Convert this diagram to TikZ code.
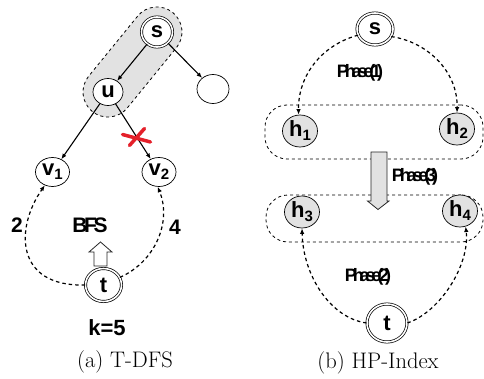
\documentclass[tikz,border=0pt]{standalone}
\usepackage{fontspec}
\newfontfamily\hv{Liberation Sans}
\newfontfamily\hvtight{Liberation Sans}[LetterSpace=-23]
\newfontfamily\hvbfs{Liberation Sans}[LetterSpace=-16]
\usetikzlibrary{shapes.geometric,arrows.meta}
\newcommand\subn[1]{{\fontsize{15}{15}\selectfont\raisebox{-4pt}{#1}}}
\definecolor{xred}{RGB}{228,32,42}
\definecolor{lgray}{RGB}{226,226,226}
\begin{document}
\begin{tikzpicture}[x=1pt,y=-1pt,
  nd/.style={ellipse,draw,line width=0.7pt,inner sep=0pt,fill=white,
    font=\hv\bfseries\fontsize{22}{24}\selectfont},
  dbl/.style={nd,double,double distance=1.6pt},
  gnd/.style={nd,fill=lgray},
  edge/.style={-{Latex[length=5.5pt,width=4.5pt]},line width=1.1pt},
  dsh/.style={edge,dash pattern=on 3.5pt off 3pt,line width=1.2pt},
  region/.style={draw,dashed,line width=0.8pt,rounded corners=22pt,rectangle,inner sep=0pt},
  capsule/.style={draw,dashed,line width=0.8pt,fill=lgray,rectangle,rounded corners=25pt,inner sep=0pt},
  lbl/.style={font=\hv\bfseries\fontsize{21}{23}\selectfont,inner sep=0pt},
  phase/.style={font=\hvtight\bfseries\fontsize{18}{20}\selectfont,inner sep=0pt},
  captxt/.style={font=\fontsize{22.5}{25}\selectfont,inner sep=0pt},
  blk/.style={draw=black!85,line width=0.8pt,line join=miter},
  xmark/.style={draw=xred,line width=3.5pt,line cap=round}]
\useasboundingbox (0,0) rectangle (484,379);

% ---------- (a) T-DFS ----------
\node[capsule,rotate=50.8,minimum width=127.5,minimum height=50] (capL) at (132.5,62) {};
\node[dbl,minimum width=31,minimum height=30] (sL) at (157,32) {s};
\node[nd,minimum width=30,minimum height=27] (u) at (108,92) {u};
\node[nd,minimum width=32,minimum height=29] (e) at (213,89) {};
\node[nd,minimum width=34,minimum height=29] (v1) at (52.5,172) {v\subn{1}};
\node[nd,minimum width=34,minimum height=29] (v2) at (159,172) {v\subn{2}};
\node[dbl,minimum width=36,minimum height=33] (tL) at (103.5,285) {t};

\draw[edge] (sL) -- (u);
\draw[edge] (sL) -- (e);
\draw[edge] (u) -- (v1);
\draw[edge] (u) -- (v2);
\draw[xmark] (122.5,134.5) -- (150.5,142);
\draw[xmark] (129.5,145.5) -- (144.5,128.5);

\draw[dsh] (tL.west) .. controls (15,287) and (15,228) .. (v1.240);
\draw[dsh] (tL.25) .. controls (155,262) and (172,222) .. (v2.265);

\node[lbl] (n2) at (17,225) {2};
\node[lbl] (n4) at (175,227) {4};
\node[lbl,font=\hvbfs\bfseries\fontsize{21}{23}\selectfont] (bfs) at (90,225) {BFS};
\draw[blk,fill=white] (94,266) -- (94,252) -- (89,252) -- (100.5,242) -- (112,252) -- (107,252) -- (107,266) -- cycle;
\node[lbl,font=\hv\bfseries\fontsize{22}{24}\selectfont] (k) at (107,328) {k=5};
\node[captxt] (capa) at (125,362) {(a) T-DFS};

% ---------- (b) HP-Index ----------
\node[region,minimum width=218,minimum height=54] (r1) at (374,132) {};
\node[region,minimum width=217,minimum height=47] (r2) at (374.5,218.5) {};
\draw[blk,fill=lgray] (371,152) -- (387,152) -- (387,201) -- (389,201) -- (378,209.5) -- (367.5,201) -- (371,201) -- cycle;

\node[dbl,minimum width=36,minimum height=32] (sR) at (375,29) {s};
\node[gnd,minimum width=35,minimum height=32] (h1) at (300,131) {h\subn{1}};
\node[gnd,minimum width=35,minimum height=32] (h2) at (457,129) {h\subn{2}};
\node[gnd,minimum width=35,minimum height=32] (h3) at (302,212) {h\subn{3}};
\node[gnd,minimum width=35,minimum height=32] (h4) at (460,211) {h\subn{4}};
\node[dbl,minimum width=40,minimum height=38] (tR) at (387,323) {t};

\draw[dsh] (sR.200) .. controls (322,45) and (298,75) .. (h1.95);
\draw[dsh] (sR.335) .. controls (428,42) and (458,72) .. (h2.90);
\draw[dsh] (tR.west) .. controls (330,318) and (303,275) .. (h3.south);
\draw[dsh] (tR.east) .. controls (440,312) and (470,265) .. (h4.290);

\node[phase] (p1) at (360,73) {Phase(1)};
\node[phase] (p3) at (415,177) {Phase(3)};
\node[phase] (p2) at (368,277) {Phase(2)};
\node[captxt] (capb) at (378,363) {(b) HP-Index};
\end{tikzpicture}
\end{document}
